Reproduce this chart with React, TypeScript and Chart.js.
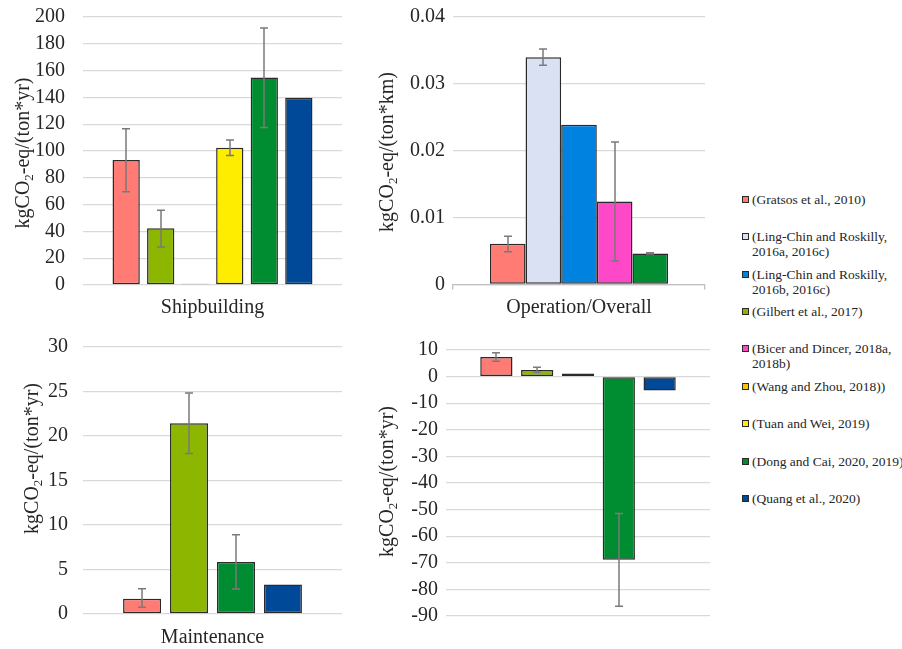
import { useEffect, useRef } from "react";
import { Chart, registerables } from "chart.js";

Chart.register(...registerables);

// ---- data ----
const SERIES = [
  "(Gratsos et al., 2010)",
  "(Ling-Chin and Roskilly, 2016a, 2016c)",
  "(Ling-Chin and Roskilly, 2016b, 2016c)",
  "(Gilbert et al., 2017)",
  "(Bicer and Dincer, 2018a, 2018b)",
  "(Wang and Zhou, 2018))",
  "(Tuan and Wei, 2019)",
  "(Dong and Cai, 2020, 2019)",
  "(Quang et al., 2020)",
];

const CATEGORIES = ["Shipbuilding", "Operation/Overall", "Maintenance", ""];

const shipbuilding = [93.2, null, null, 42.3, null, 1.0, 102.4, 154.9, 139.8];
const shipbuildingLow = [69.5, null, null, 28.4, null, null, 96.6, 117.6, null];
const shipbuildingHigh = [116.6, null, null, 55.8, null, null, 108.3, 191.8, null];

const operation = [0.0061, 0.034, 0.0239, null, 0.0124, null, null, 0.00465, null];
const operationLow = [0.0049, 0.0328, null, null, 0.0035, null, null, 0.00455, null];
const operationHigh = [0.0072, 0.0352, null, null, 0.0213, null, null, 0.00475, null];

const maintenance = [1.72, null, null, 21.4, null, null, null, 5.85, 3.3];
const maintenanceLow = [0.75, null, null, 18.0, null, null, null, 2.8, null];
const maintenanceHigh = [2.84, null, null, 24.8, null, null, null, 8.9, null];

const endOfLife = [7.4, null, null, 2.5, null, 1.2, null, -68.9, -5.2];
const endOfLifeLow = [5.8, null, null, 1.6, null, null, null, -86.3, null];
const endOfLifeHigh = [9.0, null, null, 3.5, null, null, null, -51.5, null];

const Y_RANGES = [
  { min: 0, max: 200, step: 20 },
  { min: 0, max: 0.04, step: 0.01 },
  { min: 0, max: 30, step: 5 },
  { min: -90, max: 10, step: 10 },
];
const UNITS = ["-eq/(ton*yr)", "-eq/(ton*km)", "-eq/(ton*yr)", "-eq/(ton*yr)"];

// ---- styles ----
const COLORS = [
  "#FF7B73",
  "#DAE1F3",
  "#0082E0",
  "#8DB600",
  "#FF48C8",
  "#FFC000",
  "#FFED00",
  "#008C30",
  "#004898",
];
const FONT = "'Liberation Serif', 'Times New Roman', Times, serif";
const TEXT = "#262626";
const GRID = "#d9d9d9";
const AXIS = "#bfbfbf";
const EDGE = "#2a2a2a";
const WHISKER = "#7a7a7a";

type Layout = {
  box: { left: number; top: number; width: number; height: number };
  yWidth: number;
  padRight: number;
  padTop: number;
  xHeight: number;
  tickGap: number;
  labelPad: number;
  xTicks: boolean;
  catPct: number;
  barPct: number;
  titleX: number;
  titleY: number;
};

const LAYOUTS: Layout[] = [
  { box: { left: 0, top: 0, width: 350, height: 330 }, yWidth: 83, padRight: 8, padTop: 17, xHeight: 45, tickGap: 18, labelPad: 11, xTicks: false, catPct: 0.8, barPct: 0.79, titleX: 28.5, titleY: 153 },
  { box: { left: 360, top: 0, width: 355, height: 330 }, yWidth: 93, padRight: 10, padTop: 17, xHeight: 45.5, tickGap: 8, labelPad: 6, xTicks: true, catPct: 0.707, barPct: 1.0, titleX: 33, titleY: 152 },
  { box: { left: 0, top: 330, width: 350, height: 319 }, yWidth: 83, padRight: 8, padTop: 16.7, xHeight: 35, tickGap: 15, labelPad: 12, xTicks: false, catPct: 0.725, barPct: 0.81, titleX: 38, titleY: 128.5 },
  { box: { left: 360, top: 330, width: 355, height: 319 }, yWidth: 86, padRight: 5, padTop: 20, xHeight: 33, tickGap: 8, labelPad: 10, xTicks: false, catPct: 0.773, barPct: 0.79, titleX: 33, titleY: 151.5 },
];

const PANEL_VALUES = [shipbuilding, operation, maintenance, endOfLife];
const PANEL_LOW = [shipbuildingLow, operationLow, maintenanceLow, endOfLifeLow];
const PANEL_HIGH = [shipbuildingHigh, operationHigh, maintenanceHigh, endOfLifeHigh];

// Whiskers drawn on top of the bars
const errorBars = {
  id: "errorBars",
  afterDatasetsDraw(chart: any) {
    const { ctx } = chart;
    const y = chart.scales.y;
    ctx.save();
    ctx.strokeStyle = WHISKER;
    ctx.lineWidth = 1.5;
    chart.data.datasets.forEach((ds: any, i: number) => {
      if (ds.errLow == null || ds.errHigh == null) return;
      const el = chart.getDatasetMeta(i).data[0];
      if (!el || !isFinite(el.x)) return;
      const x = Math.round(el.x);
      const y1 = y.getPixelForValue(ds.errLow);
      const y2 = y.getPixelForValue(ds.errHigh);
      ctx.beginPath();
      ctx.moveTo(x, y1);
      ctx.lineTo(x, y2);
      ctx.moveTo(x - 4, y1);
      ctx.lineTo(x + 4, y1);
      ctx.moveTo(x - 4, y2);
      ctx.lineTo(x + 4, y2);
      ctx.stroke();
    });
    ctx.restore();
  },
};

// Rotated axis caption with a subscript "2"
const yTitle = {
  id: "yTitle",
  afterDraw(chart: any, _args: any, opts: any) {
    const { ctx } = chart;
    const main = `20px ${FONT}`;
    const sub = `13px ${FONT}`;
    const a = "kgCO";
    const b = "2";
    const c = opts.unit;
    ctx.save();
    ctx.font = main;
    const wa = ctx.measureText(a).width;
    const wc = ctx.measureText(c).width;
    ctx.font = sub;
    const wb = ctx.measureText(b).width;
    const total = wa + wb + wc;
    ctx.translate(opts.x, opts.y);
    ctx.rotate(-Math.PI / 2);
    ctx.fillStyle = TEXT;
    ctx.textBaseline = "alphabetic";
    ctx.textAlign = "left";
    let x = -total / 2;
    ctx.font = main;
    ctx.fillText(a, x, 0);
    x += wa;
    ctx.font = sub;
    ctx.fillText(b, x, 4);
    x += wb;
    ctx.font = main;
    ctx.fillText(c, x, 0);
    ctx.restore();
  },
};

function Panel({ index }: { index: number }) {
  const ref = useRef<HTMLCanvasElement>(null);
  const L = LAYOUTS[index];
  useEffect(() => {
    if (!ref.current) return;
    const range = Y_RANGES[index];
    const values = PANEL_VALUES[index];
    const low = PANEL_LOW[index];
    const high = PANEL_HIGH[index];
    const chart = new Chart(ref.current, {
      type: "bar",
      data: {
        labels: [CATEGORIES[index]],
        datasets: SERIES.map((name, i) => ({
          label: name,
          data: [values[i]],
          backgroundColor: COLORS[i],
          borderColor: EDGE,
          borderWidth: 1.5,
          borderSkipped: false,
          skipNull: true,
          categoryPercentage: L.catPct,
          barPercentage: L.barPct,
          errLow: low[i],
          errHigh: high[i],
        })) as any,
      },
      options: {
        responsive: false,
        animation: false,
        layout: { padding: { left: 0, right: L.padRight, top: L.padTop, bottom: 0 } },
        plugins: {
          legend: { display: false },
          tooltip: { enabled: false },
          yTitle: { x: L.titleX, y: L.titleY, unit: UNITS[index] },
        } as any,
        scales: {
          x: {
            grid: {
              display: L.xTicks,
              drawOnChartArea: false,
              drawTicks: L.xTicks,
              tickLength: 5,
              color: AXIS,
              lineWidth: 1.3,
            },
            border: { display: L.xTicks, color: AXIS, width: 1.3 },
            ticks: {
              padding: L.labelPad,
              font: { family: FONT, size: 20 },
              color: TEXT,
              maxRotation: 0,
            },
            afterFit: (s: any) => {
              s.height = L.xHeight;
            },
          },
          y: {
            min: range.min,
            max: range.max,
            ticks: {
              stepSize: range.step,
              autoSkip: false,
              padding: 2,
              font: { family: FONT, size: 20 },
              color: TEXT,
              callback: (v: any) => String(Math.round(Number(v) * 1000) / 1000),
            },
            grid: {
              color: GRID,
              lineWidth: 1.3,
              drawTicks: true,
              tickLength: L.tickGap - 2,
              tickColor: "rgba(0,0,0,0)",
            },
            border: { display: false },
            afterFit: (s: any) => {
              s.width = L.yWidth;
            },
          },
        },
      } as any,
      plugins: [errorBars, yTitle] as any,
    });
    return () => chart.destroy();
  }, [index]);
  return (
    <div style={{ position: "absolute", left: L.box.left, top: L.box.top, width: L.box.width, height: L.box.height }}>
      <canvas ref={ref} width={L.box.width} height={L.box.height} style={{ display: "block" }} />
    </div>
  );
}

function Legend() {
  return (
    <>
      {SERIES.map((name, i) => (
        <div
          key={name}
          style={{
            position: "absolute",
            left: 742,
            top: 199.3 + i * 37.4 - 7.5,
            display: "flex",
            alignItems: "flex-start",
          }}
        >
          <span
            style={{
              width: 7,
              height: 7,
              boxSizing: "border-box",
              border: `1px solid ${EDGE}`,
              background: COLORS[i],
              marginTop: 4,
              marginRight: 3,
              flex: "none",
            }}
          />
          <span style={{ font: `13.5px/15px ${FONT}`, color: TEXT, width: 158 }}>{name}</span>
        </div>
      ))}
    </>
  );
}

export default function App() {
  return (
    <div
      style={{
        position: "fixed",
        left: 0,
        top: 0,
        width: 902,
        height: 649,
        overflow: "hidden",
        background: "#fff",
      }}
    >
      {[0, 1, 2, 3].map((i) => (
        <Panel key={i} index={i} />
      ))}
      <Legend />
    </div>
  );
}
